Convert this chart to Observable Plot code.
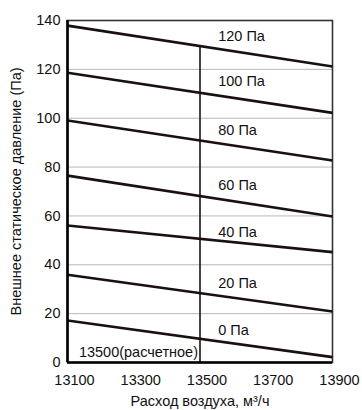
<!DOCTYPE html>
<html>
<head>
<meta charset="utf-8">
<script src="https://cdn.jsdelivr.net/npm/d3@7"></script>
<script src="https://cdn.jsdelivr.net/npm/@observablehq/plot@0.6"></script>
<style>
  html, body { margin: 0; padding: 0; background: #fff; }
  #chart svg { display: block; }
</style>
</head>
<body>
<div id="chart"></div>
<script>
// Data
const flowStart = 13100;
const flowEnd = 13900;
const curveLabels = ["0 Па", "20 Па", "40 Па", "60 Па", "80 Па", "100 Па", "120 Па"];
const startValues = [17.2, 35.9, 56.1, 76.5, 99.1, 118.6, 137.9];
const endValues = [2.2, 20.9, 45.2, 59.8, 82.7, 102.2, 121.2];
const labelValues = [13.1, 32.6, 53.1, 72.5, 95, 115, 133.4];
const labelFlow = 13555;
const xTicks = [13100, 13300, 13500, 13700, 13900];
const yTicks = [0, 20, 40, 60, 80, 100, 120, 140];
const gridValues = [20, 40, 60, 80, 100, 120];
const designFlow = 13500;
const designTop = 129.8;
const designLabel = "13500(расчетное)";
const designLabelY = 4.2;
const xTitle = "Расход воздуха, м³/ч";
const yTitle = "Внешнее статическое давление (Па)";

const segments = curveLabels.map((name, i) => ({
  name, x1: flowStart, y1: startValues[i], x2: flowEnd, y2: endValues[i]
}));
const labels = curveLabels.map((name, i) => ({name, x: labelFlow, y: labelValues[i]}));

const chart = Plot.plot({
  width: 362,
  height: 410,
  marginLeft: 67,
  marginRight: 30,
  marginTop: 20,
  marginBottom: 48,
  style: {fontFamily: "'Liberation Sans', Arial, sans-serif", fontSize: "14px", color: "#111", background: "#fff"},
  x: {domain: [flowStart, flowEnd]},
  y: {domain: [0, 140]},
  marks: [
    Plot.ruleY(gridValues, {stroke: "#b8b8b8", strokeWidth: 1}),
    Plot.frame({stroke: "#333", strokeWidth: 1.6}),
    Plot.ruleX([designFlow], {y1: 0, y2: designTop, stroke: "#1a1212", strokeWidth: 1.6}),
    Plot.link(segments, {x1: "x1", y1: "y1", x2: "x2", y2: "y2", stroke: "#1a1010", strokeWidth: 2.6}),
    Plot.ruleX([flowStart], {stroke: "#000", strokeWidth: 2.6}),
    Plot.ruleY([0], {stroke: "#000", strokeWidth: 2.6}),
    Plot.text(labels, {x: "x", y: "y", text: "name", textAnchor: "start", fontSize: 14.5, fill: "#111"}),
    Plot.text([designLabel], {x: designFlow, y: designLabelY, text: d => d, textAnchor: "end", dx: -2, fontSize: 14.5, fill: "#111"}),
    Plot.axisX(xTicks, {tickSize: 0, tickPadding: 12, dx: 7, fontSize: 14.5, tickFormat: d => String(d), label: xTitle, labelAnchor: "center", labelArrow: "none", labelOffset: 43}),
    Plot.axisY(yTicks, {tickSize: 0, tickPadding: 7, fontSize: 14.5, tickFormat: d => String(d), label: yTitle, labelAnchor: "center", labelArrow: "none", labelOffset: 57})
  ]
});
document.getElementById("chart").appendChild(chart);
</script>
</body>
</html>
